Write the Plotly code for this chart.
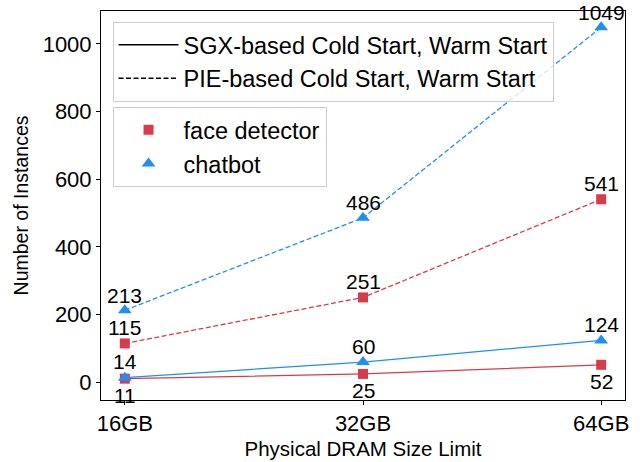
import plotly.graph_objects as go

categories = ["16GB", "32GB", "64GB"]
sgx_face = [11, 25, 52]
sgx_chat = [14, 60, 124]
pie_face = [115, 251, 541]
pie_chat = [213, 486, 1049]

RED = "#d73c4c"
BLUE = "#1e8ff5"
FONT = "Liberation Sans, Arial, sans-serif"
DASH = "5px,2.5px"

xs = list(range(len(categories)))
fig = go.Figure()

def add_series(vals, color, symbol, size, dash):
    fig.add_trace(go.Scatter(
        x=xs, y=vals, mode="lines+markers", showlegend=False,
        line=dict(color=color, width=1.3, dash=dash),
        marker=dict(symbol=symbol, size=size, color=color),
        hoverinfo="skip"))

add_series(sgx_face, RED, "square", 10, "solid")
add_series(sgx_chat, BLUE, "triangle-up", 12, "solid")
add_series(pie_face, RED, "square", 10, DASH)
add_series(pie_chat, BLUE, "triangle-up", 12, DASH)

# legend entries
fig.add_trace(go.Scatter(x=[None], y=[None], mode="lines", name="SGX-based Cold Start, Warm Start",
                         line=dict(color="black", width=1.5), legend="legend"))
fig.add_trace(go.Scatter(x=[None], y=[None], mode="lines", name="PIE-based Cold Start, Warm Start",
                         line=dict(color="black", width=1.5, dash=DASH), legend="legend"))
fig.add_trace(go.Scatter(x=[None], y=[None], mode="markers", name="face detector",
                         marker=dict(symbol="square", size=10, color=RED), legend="legend2"))
fig.add_trace(go.Scatter(x=[None], y=[None], mode="markers", name="chatbot",
                         marker=dict(symbol="triangle-up", size=12, color=BLUE), legend="legend2"))

annotations = []
for vals, shift in [(sgx_face, -17), (sgx_chat, 16), (pie_face, 16), (pie_chat, 15)]:
    for xi, v in zip(xs, vals):
        annotations.append(dict(x=xi, y=v, xref="x", yref="y", text=str(v), showarrow=False,
                                yshift=shift, font=dict(size=21, color="black", family=FONT)))

legend_common = dict(
    bgcolor="rgba(255,255,255,0.8)", bordercolor="#cccccc", borderwidth=1,
    font=dict(size=23.5, color="black", family=FONT), xanchor="left", yanchor="top",
    itemwidth=60,
)

fig.update_layout(
    width=644, height=462,
    margin=dict(l=101, r=19, t=11, b=62),
    paper_bgcolor="white", plot_bgcolor="white",
    font=dict(family=FONT, color="black"),
    annotations=annotations,
    legend=dict(x=0.022, y=0.972, **legend_common),
    legend2=dict(x=0.022, y=0.753, **legend_common),
    xaxis=dict(
        tickmode="array", tickvals=xs, ticktext=categories, range=[-0.1, 2.1],
        showline=True, linecolor="black", linewidth=1, mirror=True, automargin=False,
        ticks="outside", ticklen=4, tickcolor="black", showgrid=False, zeroline=False,
        tickfont=dict(size=22, family=FONT),
        title=dict(text="Physical DRAM Size Limit", font=dict(size=20.5, family=FONT), standoff=6),
    ),
    yaxis=dict(
        range=[-52, 1097], tickvals=[0, 200, 400, 600, 800, 1000],
        showline=True, linecolor="black", linewidth=1, mirror=True, automargin=False,
        ticks="outside", ticklen=4, tickcolor="black", showgrid=False, zeroline=False,
        tickfont=dict(size=22, family=FONT),
        title=dict(text="Number of Instances", font=dict(size=19.5, family=FONT), standoff=8),
    ),
)

fig.write_html("out.html", config={"displayModeBar": False},
               post_script="document.body.style.margin='0';")
